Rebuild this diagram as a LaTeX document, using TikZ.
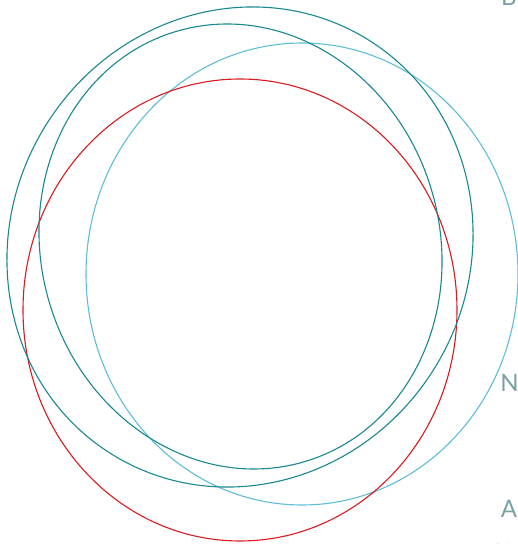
\documentclass[tikz,border=0pt]{standalone}
\usepackage{fontspec}
\newfontfamily\labelfont{Lato}
\usetikzlibrary{positioning}

\definecolor{orbitteal}{RGB}{26,135,145}
\definecolor{orbitsky}{RGB}{94,190,214}
\definecolor{orbitred}{RGB}{214,26,30}
\definecolor{labelgray}{RGB}{122,160,163}

\tikzset{
  orbit/.style={line width=1.1pt},
  letter/.style={anchor=base, inner sep=0pt, text=labelgray,
                 font=\labelfont\fontsize{24}{24}\selectfont}
}

\begin{document}
\begin{tikzpicture}[x=1pt, y=1pt]
  \useasboundingbox (0,0) rectangle (518,544);
  \begin{scope}
  \clip (0,0) rectangle (518,544);

  % Orbits
  \draw[orbit, orbitsky] (302,270) ellipse [x radius=216, y radius=231];
  \draw[orbit, orbitred] (240,234) ellipse [x radius=217, y radius=231];
  \draw[orbit, orbitteal, rotate around={-30.6:(240,297)}]
    (240,297) ellipse [x radius=229.2, y radius=243.7];
  \draw[orbit, orbitteal, rotate around={17:(240.5,297.5)}]
    (240.5,297.5) ellipse [x radius=199.2, y radius=224.5];

  % Letters
  \node[letter] (lb) at (509,538) {B};
  \node[letter] (ln) at (509.5,152) {N};
  \node[letter] (la) at (509,26) {A};
  \node[letter] (lw) at (509,-17) {W};
  \end{scope}
\end{tikzpicture}
\end{document}
